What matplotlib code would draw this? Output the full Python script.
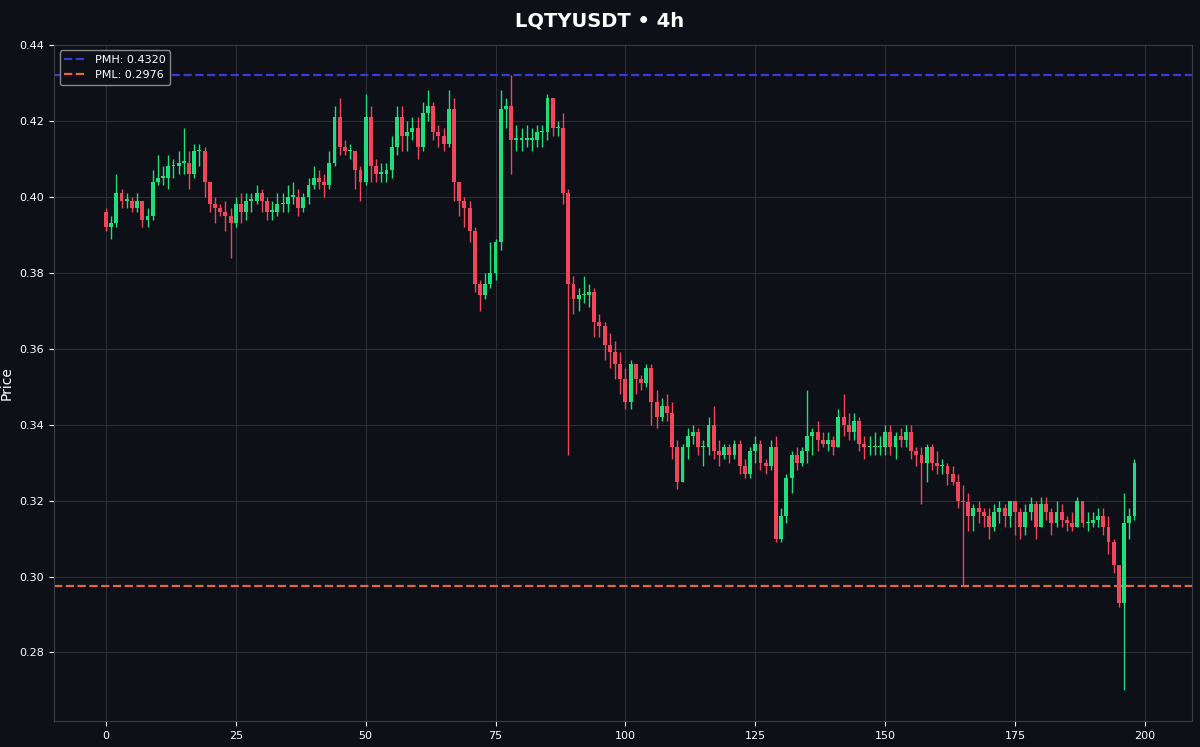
import matplotlib
matplotlib.use("Agg")
import matplotlib.pyplot as plt

title = "LQTYUSDT • 4h"
pmh = 0.4320
pml = 0.2976
first_open = 0.396
closes = [
 0.392,0.393,0.401,0.399,0.399,0.397,0.399,0.394,0.395,0.404,
 0.405,0.405,0.408,0.408,0.409,0.409,0.406,0.412,0.412,0.404,
 0.398,0.397,0.396,0.395,0.393,0.398,0.396,0.399,0.399,0.401,
 0.399,0.396,0.396,0.398,0.398,0.400,0.400,0.397,0.400,0.403,
 0.405,0.404,0.403,0.409,0.421,0.413,0.412,0.412,0.407,0.404,
 0.421,0.408,0.406,0.406,0.407,0.413,0.421,0.416,0.417,0.418,
 0.413,0.422,0.424,0.417,0.416,0.414,0.423,0.404,0.399,0.397,
 0.391,0.377,0.374,0.377,0.380,0.388,0.423,0.424,0.415,0.415,
 0.415,0.415,0.415,0.417,0.417,0.426,0.418,0.418,0.401,0.377,
 0.373,0.374,0.374,0.375,0.367,0.366,0.361,0.359,0.356,0.352,
 0.346,0.356,0.352,0.351,0.355,0.346,0.342,0.345,0.343,0.334,
 0.325,0.334,0.337,0.338,0.334,0.334,0.340,0.333,0.332,0.334,
 0.332,0.335,0.329,0.327,0.333,0.335,0.330,0.329,0.334,0.310,
 0.316,0.326,0.332,0.330,0.333,0.337,0.338,0.336,0.335,0.336,
 0.334,0.342,0.340,0.338,0.341,0.335,0.334,0.334,0.334,0.334,
 0.338,0.334,0.337,0.336,0.338,0.333,0.332,0.330,0.334,0.330,
 0.329,0.329,0.327,0.325,0.320,0.3195,0.316,0.318,0.317,0.316,
 0.313,0.317,0.318,0.316,0.320,0.317,0.313,0.317,0.319,0.313,
 0.319,0.317,0.314,0.317,0.315,0.314,0.313,0.320,0.314,0.314,
 0.315,0.316,0.313,0.309,0.303,0.293,0.314,0.316,0.330]
highs = [
 0.397,0.395,0.406,0.402,0.401,0.400,0.401,0.399,0.397,0.407,
 0.411,0.408,0.411,0.410,0.412,0.418,0.412,0.414,0.414,0.413,
 0.401,0.400,0.398,0.399,0.397,0.400,0.401,0.401,0.401,0.403,
 0.402,0.400,0.399,0.401,0.401,0.403,0.404,0.402,0.401,0.405,
 0.408,0.407,0.406,0.412,0.424,0.426,0.415,0.414,0.412,0.408,
 0.427,0.424,0.410,0.409,0.409,0.416,0.424,0.424,0.420,0.421,
 0.421,0.425,0.428,0.425,0.419,0.418,0.428,0.426,0.404,0.400,
 0.399,0.392,0.378,0.380,0.388,0.389,0.428,0.426,0.432,0.419,
 0.418,0.419,0.418,0.419,0.419,0.427,0.426,0.420,0.422,0.402,
 0.379,0.376,0.379,0.377,0.376,0.369,0.367,0.364,0.362,0.359,
 0.355,0.357,0.356,0.353,0.356,0.356,0.349,0.347,0.348,0.346,
 0.336,0.335,0.339,0.340,0.339,0.336,0.342,0.345,0.336,0.335,
 0.335,0.336,0.336,0.331,0.334,0.337,0.336,0.331,0.336,0.337,
 0.318,0.327,0.333,0.334,0.334,0.349,0.339,0.341,0.338,0.338,
 0.337,0.344,0.348,0.343,0.343,0.342,0.337,0.337,0.338,0.337,
 0.340,0.340,0.338,0.339,0.340,0.340,0.334,0.334,0.335,0.335,
 0.333,0.331,0.330,0.329,0.327,0.324,0.322,0.319,0.320,0.318,
 0.318,0.319,0.320,0.319,0.320,0.320,0.318,0.319,0.321,0.320,
 0.321,0.321,0.318,0.320,0.319,0.316,0.317,0.321,0.319,0.317,
 0.317,0.318,0.318,0.316,0.310,0.303,0.322,0.318,0.331]
lows = [
 0.391,0.389,0.392,0.397,0.397,0.396,0.396,0.392,0.392,0.394,
 0.403,0.403,0.402,0.405,0.406,0.406,0.402,0.405,0.408,0.400,
 0.396,0.393,0.395,0.391,0.384,0.392,0.393,0.394,0.396,0.398,
 0.396,0.394,0.394,0.395,0.396,0.396,0.398,0.395,0.396,0.398,
 0.402,0.402,0.400,0.402,0.408,0.411,0.411,0.410,0.402,0.399,
 0.403,0.404,0.404,0.404,0.404,0.405,0.411,0.412,0.412,0.415,
 0.410,0.412,0.420,0.415,0.413,0.412,0.413,0.399,0.395,0.392,
 0.388,0.375,0.370,0.373,0.376,0.378,0.386,0.418,0.406,0.412,
 0.412,0.413,0.412,0.413,0.413,0.415,0.416,0.416,0.398,0.332,
 0.369,0.370,0.372,0.371,0.363,0.363,0.357,0.355,0.352,0.348,
 0.344,0.344,0.348,0.349,0.350,0.340,0.339,0.341,0.341,0.331,
 0.323,0.325,0.331,0.335,0.332,0.329,0.332,0.331,0.329,0.331,
 0.330,0.331,0.327,0.326,0.326,0.330,0.328,0.327,0.328,0.309,
 0.309,0.314,0.322,0.328,0.329,0.330,0.332,0.333,0.334,0.333,
 0.332,0.334,0.337,0.336,0.336,0.333,0.331,0.332,0.332,0.332,
 0.332,0.332,0.331,0.334,0.334,0.331,0.329,0.319,0.325,0.328,
 0.327,0.327,0.324,0.324,0.318,0.2976,0.312,0.312,0.314,0.313,
 0.310,0.312,0.314,0.313,0.313,0.311,0.310,0.311,0.315,0.310,
 0.313,0.315,0.311,0.313,0.313,0.312,0.312,0.313,0.313,0.312,
 0.313,0.313,0.311,0.306,0.301,0.292,0.270,0.310,0.315]

opens = [first_open] + closes[:-1]

BG = "#0d1017"
UP = "#1fdc7c"
DN = "#f0455a"
plt.rcParams['font.family'] = ['DejaVu Sans']
fig, ax = plt.subplots(figsize=(12, 7.47), dpi=100)
fig.patch.set_facecolor(BG)
ax.set_facecolor(BG)

for i, (o, h, l, c) in enumerate(zip(opens, highs, lows, closes)):
    col = UP if c >= o else DN
    ax.vlines(i, l, h, color=col, linewidth=1, zorder=2)
    lo, hi = min(o, c), max(o, c)
    if hi - lo < 0.0004:
        hi = lo + 0.0004
    ax.bar(i, hi - lo, bottom=lo, width=0.75, color=col, zorder=3, linewidth=0)

ax.axhline(pmh, color="#3a3ad8", linestyle="--", linewidth=1.6, label=f"PMH: {pmh:.4f}", zorder=1)
ax.axhline(pml, color="#e8653a", linestyle="--", linewidth=1.6, label=f"PML: {pml:.4f}", zorder=1)

ax.set_xlim(-10, 209)
ax.set_ylim(0.262, 0.44)
ax.set_xticks([0, 25, 50, 75, 100, 125, 150, 175, 200])
ax.grid(True, color="#2a2e38", linewidth=0.8)
ax.set_axisbelow(True)
ax.tick_params(colors="white", labelsize=8)
for s in ax.spines.values():
    s.set_color("#3a3e48")
ax.set_ylabel("Price", color="white", fontsize=10)
fig.suptitle(title, color="white", fontsize=14, fontweight="bold", y=0.985)
ax.legend(loc="upper left", fontsize=8, facecolor=BG, edgecolor="#888888", labelcolor="white", framealpha=1)

plt.subplots_adjust(left=0.045, right=0.993, top=0.94, bottom=0.035)
fig.savefig("out.png", facecolor=BG)
